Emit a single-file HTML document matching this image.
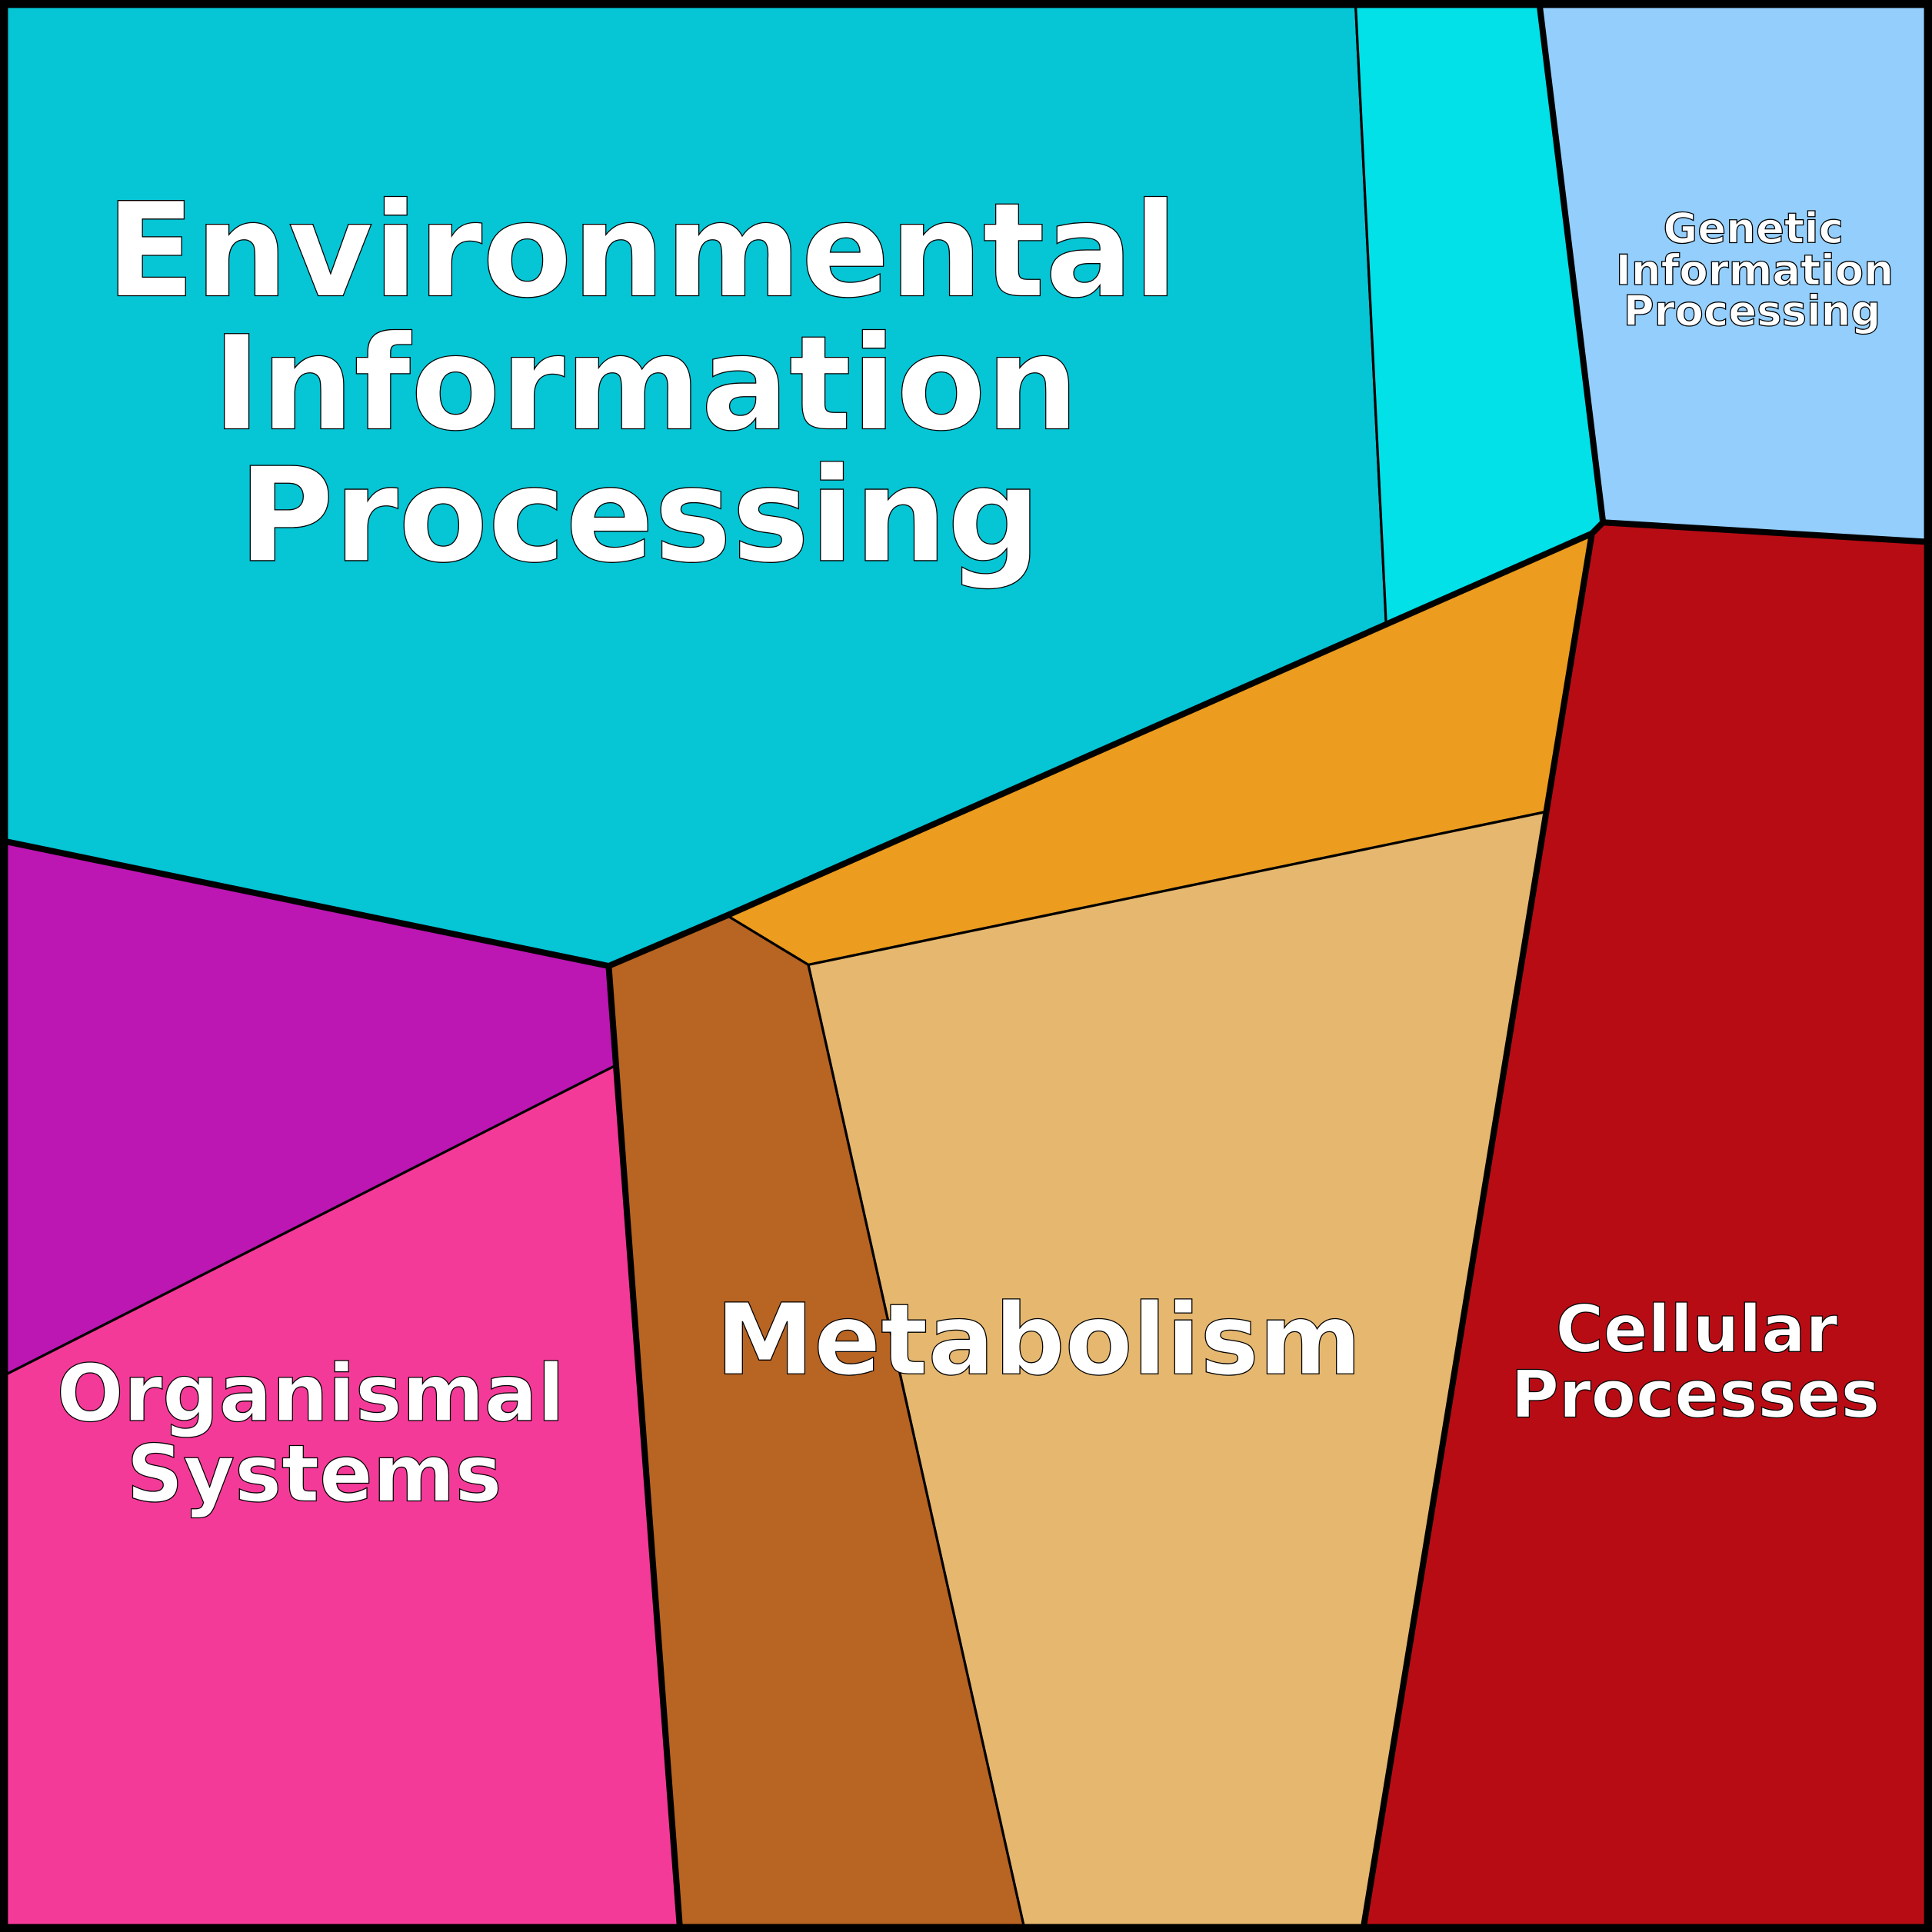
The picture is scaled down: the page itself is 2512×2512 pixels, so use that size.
<!DOCTYPE html>
<html><head><meta charset="utf-8"><style>html,body{margin:0;padding:0;background:#fff}svg{display:block}</style></head>
<body>
<svg width="2512" height="2512" viewBox="0 0 1568 1568" xmlns="http://www.w3.org/2000/svg">
<g stroke="#000" stroke-width="2" stroke-linejoin="round">
<polygon fill="#06C5D5" points="0,0 1100,0 1125,507 590,743 494,784 0,682"/>
<polygon fill="#02E0E8" points="1100,0 1249,0 1301,424 1292,433 1125,507"/>
<polygon fill="#93CEFC" points="1249,0 1568,0 1568,440 1301,424"/>
<polygon fill="#B80C15" points="1301,424 1568,440 1568,1568 1106,1568 1254,659 1292,433"/>
<polygon fill="#EC9C1E" points="590,743 1292,433 1254,659 656,783"/>
<polygon fill="#E5B76F" points="656,783 1254,659 1106,1568 832,1568"/>
<polygon fill="#B86422" points="494,784 590,743 656,783 832,1568 552,1568 499,865"/>
<polygon fill="#BC16B3" points="0,682 494,784 499,865 0,1118"/>
<polygon fill="#F43A98" points="0,1118 499,865 552,1568 0,1568"/>
</g>
<g stroke="#000" stroke-width="5" fill="none" stroke-linejoin="round">
<polyline points="0,682 494,784 590,743 1292,433 1301,424 1249,0"/>
<polyline points="1301,424 1568,440"/>
<polyline points="1292,433 1106,1568"/>
<polyline points="494,784 552,1568"/>
<rect x="3" y="3" width="1562" height="1562" stroke-width="7"/>
</g>
<g font-family="'DejaVu Sans', 'Liberation Sans', sans-serif" font-weight="bold" fill="#fff" stroke="#000" stroke-width="0.8" text-anchor="middle">
<text font-size="106" x="521" y="240">Environmental</text>
<text font-size="106" x="524" y="348">Information</text>
<text font-size="106" x="519" y="455">Processing</text>
<text font-size="80" x="843" y="1115">Metabolism</text>
<text font-size="64" x="252" y="1153">Organismal</text>
<text font-size="64" x="255" y="1218">Systems</text>
<text font-size="53" x="1377" y="1097">Cellular</text>
<text font-size="53" x="1376" y="1150">Processes</text>
<text font-size="34" x="1423" y="197">Genetic</text>
<text font-size="34" x="1424" y="231">Information</text>
<text font-size="34" x="1422" y="264">Processing</text>
</g>
</svg>
</body></html>
